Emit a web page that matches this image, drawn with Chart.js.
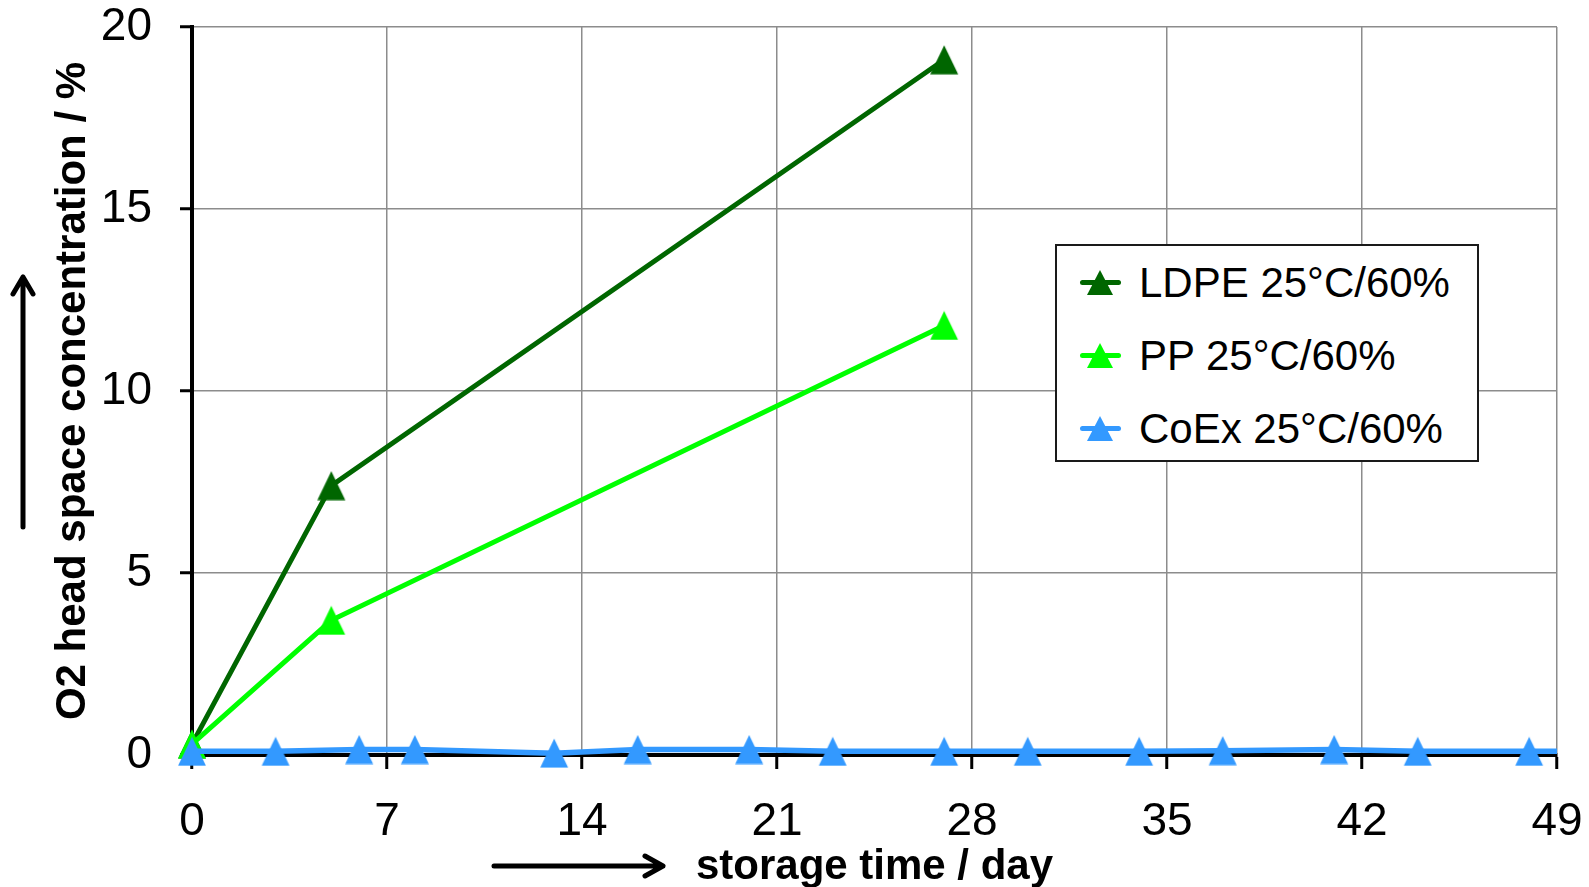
<!DOCTYPE html>
<html>
<head>
<meta charset="utf-8">
<script src="https://cdn.jsdelivr.net/npm/chart.js@4.4.1/dist/chart.umd.min.js"></script>
<style>
  html, body { margin: 0; padding: 0; background: #fff; }
  #wrap { position: relative; width: 1589px; height: 887px; }
  #legend {
    position: absolute; left: 1055px; top: 244px; width: 420px; height: 214px;
    border: 2px solid #1a1a1a; background: #fff;
    font: 42px "Liberation Sans", Arial, sans-serif; color: #000;
  }
  .row { position: absolute; left: 0; width: 420px; height: 50px; }
  .row .ln { position: absolute; left: 23px; top: 22px; width: 41px; height: 5px; border-radius: 3px; }
  .row .tri { position: absolute; left: 30px; top: 12px; width: 0; height: 0;
    border-left: 13px solid transparent; border-right: 13px solid transparent; border-bottom: 25px solid; }
  .row .tx { position: absolute; left: 82px; top: 0; line-height: 50px; white-space: nowrap; }
</style>
</head>
<body>
<div id="wrap">
  <canvas id="chart" width="1589" height="887"></canvas>
  <div id="legend"></div>
</div>
<script>
// 数据
const seriesNames = ['LDPE 25°C/60%', 'PP 25°C/60%', 'CoEx 25°C/60%'];
const seriesColors = ['#006600', '#00ff00', '#3399ff'];

const ldpeDays = [0, 5, 27];
const ldpeValues = [0.3, 7.4, 19.1];

const ppDays = [0, 5, 27];
const ppValues = [0.3, 3.7, 11.8];

const coexDays = [0, 3, 6, 8, 13, 16, 20, 23, 27, 30, 34, 37, 41, 44, 48, 49];
const coexValues = [0.1, 0.1, 0.15, 0.15, 0.05, 0.15, 0.15, 0.1, 0.1, 0.1, 0.1, 0.12, 0.15, 0.1, 0.1, 0.1];

const xTicks = [0, 7, 14, 21, 28, 35, 42, 49];
const yTicks = [0, 5, 10, 15, 20];

const FONT = "'Liberation Sans', Arial, sans-serif";

function toPoints(days, values) {
  return days.map((d, i) => ({ x: d, y: values[i] }));
}

// 三角形标记（以外框中心对齐数据点）
function makeTriangle(color) {
  const c = document.createElement('canvas');
  c.width = 30; c.height = 30;
  const g = c.getContext('2d');
  g.fillStyle = color;
  g.beginPath();
  g.moveTo(15, 0.5);
  g.lineTo(29, 29.5);
  g.lineTo(1, 29.5);
  g.closePath();
  g.fill();
  return c;
}

// 箭头
const arrowPlugin = {
  id: 'arrows',
  afterDraw(chart) {
    const ctx = chart.ctx;
    ctx.save();
    ctx.strokeStyle = '#000';
    ctx.lineWidth = 5;
    ctx.lineCap = 'round';
    ctx.lineJoin = 'round';
    // y 轴箭头
    ctx.beginPath();
    ctx.moveTo(23, 527); ctx.lineTo(23, 277);
    ctx.moveTo(13, 294); ctx.lineTo(23, 277); ctx.lineTo(33, 294);
    ctx.stroke();
    // x 轴箭头
    ctx.beginPath();
    ctx.moveTo(494, 866); ctx.lineTo(663, 866);
    ctx.moveTo(645, 856); ctx.lineTo(663, 866); ctx.lineTo(645, 876);
    ctx.stroke();
    ctx.restore();
  }
};

function makeDataset(i, days, values, width, order) {
  return {
    label: seriesNames[i],
    data: toPoints(days, values),
    borderColor: seriesColors[i],
    backgroundColor: seriesColors[i],
    borderWidth: width,
    pointStyle: makeTriangle(seriesColors[i]),
    pointRadius: days.map(d => d === 49 ? 0 : 15),
    pointBorderWidth: 0,
    tension: 0,
    clip: false,
    order: order
  };
}

new Chart(document.getElementById('chart'), {
  type: 'line',
  data: {
    datasets: [
      makeDataset(0, ldpeDays, ldpeValues, 5, 2),
      makeDataset(1, ppDays, ppValues, 5, 1),
      makeDataset(2, coexDays, coexValues, 5.5, 0)
    ]
  },
  options: {
    responsive: false,
    animation: false,
    layout: { padding: { left: 0, top: 0, right: 0, bottom: 0 } },
    plugins: {
      legend: { display: false },
      tooltip: { enabled: false }
    },
    scales: {
      x: {
        type: 'linear',
        min: 0, max: 49,
        afterBuildTicks: s => { s.ticks = xTicks.map(v => ({ value: v })); },
        afterFit: s => { s.height = 132; s.paddingLeft = 0; s.paddingRight = 32; },
        ticks: { color: '#000', font: { family: FONT, size: 46 }, padding: 26, maxRotation: 0 },
        grid: { color: '#8c8c8c', lineWidth: 1.5, tickColor: '#000', tickWidth: 3, tickLength: 14 },
        border: { color: '#000', width: 4 },
        title: {
          display: true, text: 'storage time / day', color: '#000',
          font: { family: FONT, size: 42, weight: 'bold', lineHeight: 0.95 }, padding: { top: 0, bottom: 0 }
        }
      },
      y: {
        min: 0, max: 20,
        afterBuildTicks: s => { s.ticks = yTicks.map(v => ({ value: v })); },
        afterFit: s => { s.width = 192; s.paddingTop = 27; s.paddingBottom = 0; },
        ticks: { color: '#000', font: { family: FONT, size: 46 }, padding: 28 },
        grid: { color: '#8c8c8c', lineWidth: 1.5, tickColor: '#000', tickWidth: 3, tickLength: 12 },
        border: { color: '#000', width: 4 },
        title: {
          display: true, text: 'O2 head space concentration / %', color: '#000',
          font: { family: FONT, size: 42, weight: 'bold' }, padding: { top: 48, bottom: 0 }
        }
      }
    }
  },
  plugins: [arrowPlugin]
});

// 图例
const legend = document.getElementById('legend');
const rowTops = [12, 85, 158];
seriesNames.forEach((name, i) => {
  const row = document.createElement('div');
  row.className = 'row';
  row.style.top = rowTops[i] + 'px';
  row.innerHTML = '<span class="ln" style="background:' + seriesColors[i] + '"></span>' +
    '<span class="tri" style="border-bottom-color:' + seriesColors[i] + '"></span>' +
    '<span class="tx">' + name + '</span>';
  legend.appendChild(row);
});
</script>
</body>
</html>
